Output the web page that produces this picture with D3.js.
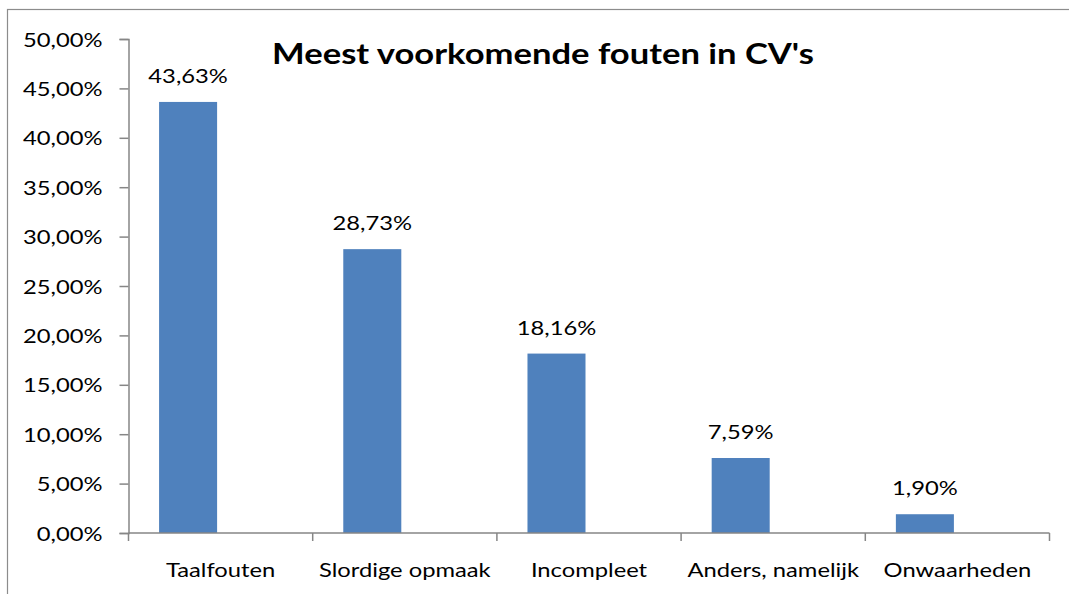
<!DOCTYPE html>
<html>
<head>
<meta charset="utf-8">
<script src="https://cdn.jsdelivr.net/npm/d3@7.9.0/dist/d3.min.js"></script>
<style>
  body { margin: 0; background: #fff; }
  text { font-family: "Lato", "Open Sans", sans-serif; fill: #000; }
</style>
</head>
<body>
<svg id="chart" width="1069" height="594"></svg>
<script>
// chart data
const categories = ["Taalfouten", "Slordige opmaak", "Incompleet", "Anders, namelijk", "Onwaarheden"];
const values = [43.63, 28.73, 18.16, 7.59, 1.90];
const yTicks = [0, 5, 10, 15, 20, 25, 30, 35, 40, 45, 50];
const title = "Meest voorkomende fouten in CV's";

const svg = d3.select("#chart");
const margin = { top: 39, right: 19.5, bottom: 61, left: 128.5 };
const width = 1069 - margin.left - margin.right;
const height = 594 - margin.top - margin.bottom;

// the original text looks horizontally stretched, so widen glyphs a bit
const stretch = 1.25;
const fmt = v => v.toFixed(2).replace(".", ",") + "%";

// outer chart border (right/bottom edges fall outside the picture)
svg.append("rect")
    .attr("x", 7.5).attr("y", 9.5)
    .attr("width", 1100).attr("height", 700)
    .attr("fill", "none")
    .attr("stroke", "#8c8c8c")
    .attr("stroke-width", 1.2);

const g = svg.append("g")
    .attr("transform", `translate(${margin.left},${margin.top})`);

const x = d3.scaleBand().domain(categories).range([0, width]).paddingInner(0).paddingOuter(0);
const y = d3.scaleLinear().domain([0, 50]).range([height, 0]);

const barW = x.bandwidth() * 0.315;
const barOff = x.bandwidth() * 0.166; // bars sit left of the band centre in the original
const barCx = c => x(c) + barOff + barW / 2;

// bars
g.selectAll(".bar")
    .data(values)
    .enter()
    .append("rect")
    .attr("class", "bar")
    .attr("x", (d, i) => x(categories[i]) + barOff)
    .attr("y", d => y(d))
    .attr("width", barW)
    .attr("height", d => y(0) - y(d))
    .attr("fill", "#4F81BD");

// data labels
g.selectAll(".lbl")
    .data(values)
    .enter()
    .append("text")
    .attr("class", "lbl")
    .attr("transform", (d, i) => `translate(${barCx(categories[i])},${y(d) - 19}) scale(${stretch},1)`)
    .attr("text-anchor", "middle")
    .style("font-size", "19px")
    .text(d => fmt(d));

// y axis
const yAxis = g.append("g")
    .call(d3.axisLeft(y).tickValues(yTicks).tickSize(9).tickFormat(d => fmt(d)));
yAxis.select(".domain").attr("stroke", "#868686").attr("stroke-width", 1.5);
yAxis.selectAll(".tick line").attr("stroke", "#868686").attr("stroke-width", 1.5);
yAxis.selectAll(".tick text")
    .attr("x", 0)
    .attr("transform", `translate(-26,1) scale(${stretch},1)`)
    .style("font-size", "19px")
    .attr("font-family", null);

// x axis with ticks at category boundaries
const xAxis = g.append("g").attr("transform", `translate(0,${height})`);
xAxis.append("line")
    .attr("x1", 0).attr("x2", width)
    .attr("stroke", "#868686").attr("stroke-width", 1.5);
const bounds = categories.map(c => x(c)).concat([width]);
xAxis.selectAll(".xt")
    .data(bounds)
    .enter()
    .append("line")
    .attr("x1", d => d).attr("x2", d => d)
    .attr("y1", 0).attr("y2", 8)
    .attr("stroke", "#868686").attr("stroke-width", 1.5);
xAxis.selectAll(".xl")
    .data(categories)
    .enter()
    .append("text")
    .attr("transform", d => `translate(${x(d) + x.bandwidth() / 2},44) scale(${stretch},1)`)
    .attr("text-anchor", "middle")
    .style("font-size", "19px")
    .text(d => d);

// title
svg.append("text")
    .attr("transform", `translate(543,64) scale(1.235,1)`)
    .attr("text-anchor", "middle")
    .style("font-size", "28px")
    .style("font-weight", "bold")
    .text(title);
</script>
</body>
</html>
